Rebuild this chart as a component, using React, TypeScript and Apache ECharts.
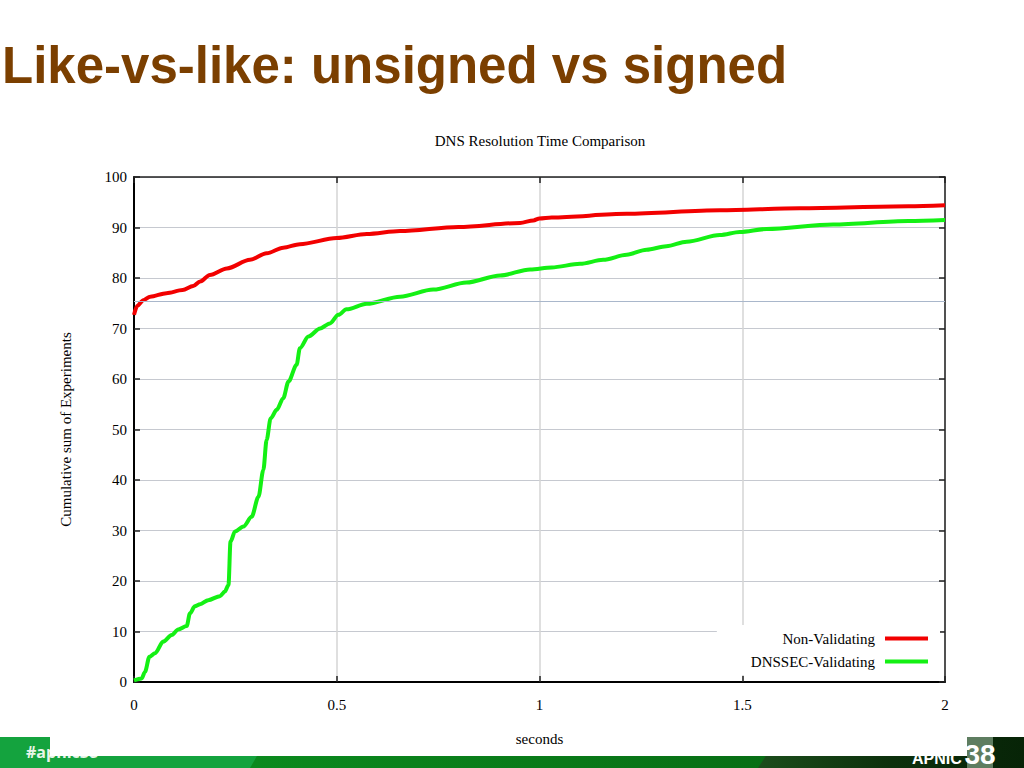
import React, { useEffect, useRef } from "react";
import * as echarts from "echarts";

const slideTitle = "Like-vs-like: unsigned vs signed";
const chartTitle = "DNS Resolution Time Comparison";
const xAxisName = "seconds";
const yAxisName = "Cumulative sum of Experiments";
const seriesNames = ["Non-Validating", "DNSSEC-Validating"];
const referenceLevel = 75.4;

const nonValX = [0, 0.008, 0.023, 0.04, 0.08, 0.12, 0.146, 0.163, 0.187, 0.229, 0.286, 0.327, 0.368, 0.409, 0.5, 0.574, 0.656, 0.8, 0.952, 0.985, 1.0, 1.03, 1.215, 1.445, 1.642, 1.91, 2.0];
const nonValY = [72.7, 74.5, 75.6, 76.3, 77.0, 77.6, 78.4, 79.3, 80.6, 81.9, 83.6, 84.9, 86.0, 86.7, 87.9, 88.7, 89.3, 90.1, 90.9, 91.4, 91.8, 92.0, 92.7, 93.4, 93.8, 94.2, 94.4];

const dnssecX = [0, 0.019, 0.027, 0.038, 0.052, 0.072, 0.093, 0.109, 0.13, 0.138, 0.15, 0.163, 0.183, 0.212, 0.224, 0.233, 0.238, 0.249, 0.27, 0.29, 0.307, 0.319, 0.327, 0.337, 0.352, 0.368, 0.381, 0.401, 0.409, 0.43, 0.459, 0.483, 0.504, 0.524, 0.574, 0.656, 0.738, 0.82, 0.903, 0.977, 1.03, 1.1, 1.157, 1.215, 1.264, 1.313, 1.363, 1.445, 1.494, 1.56, 1.724, 1.91, 2.0];
const dnssecY = [0.3, 0.7, 2.0, 5.0, 5.7, 8.0, 9.3, 10.4, 11.1, 13.6, 15.0, 15.4, 16.2, 17.0, 17.9, 19.2, 27.8, 29.8, 30.8, 32.7, 36.7, 42.0, 47.9, 52.2, 53.9, 56.2, 59.5, 62.8, 66.1, 68.4, 70.0, 71.0, 72.7, 73.8, 74.9, 76.3, 77.7, 79.1, 80.5, 81.7, 82.1, 82.8, 83.6, 84.6, 85.6, 86.3, 87.2, 88.5, 89.1, 89.7, 90.6, 91.3, 91.5];

const footerTag = "#apnic38";
const footerOrg = "APNIC";
const footerNum = "38";

const serif = "'Liberation Serif', 'DejaVu Serif', serif";
const sans = "'Liberation Sans', Arial, sans-serif";

function zip(xs: number[], ys: number[]) {
  return xs.map((x, i) => [x, ys[i]]);
}

export default function App() {
  const ref = useRef<HTMLDivElement>(null);
  useEffect(() => {
    if (!ref.current) return;
    const chart = echarts.init(ref.current, null, { renderer: "svg" });
    const axisText = { fontSize: 15, color: "#000", fontFamily: serif };
    const option: any = {
      animation: false,
      backgroundColor: "#fff",
      textStyle: { fontFamily: serif },
      grid: { left: 134, top: 177, right: 79, bottom: 86, containLabel: false },
      legend: {
        data: seriesNames,
        orient: "vertical",
        right: 84,
        bottom: 93,
        align: "right",
        backgroundColor: "#fff",
        padding: [6, 12, 6, 34],
        itemWidth: 43,
        itemHeight: 4,
        itemGap: 8,
        icon: "rect",
        textStyle: { fontSize: 15, color: "#000", fontFamily: serif, padding: [0, 5, 0, 0] },
      },
      xAxis: [
        {
          type: "value",
          min: 0,
          max: 2,
          interval: 0.5,
          position: "bottom",
          name: xAxisName,
          nameLocation: "middle",
          nameGap: 49,
          nameTextStyle: axisText,
          axisLine: { show: true, onZero: false, lineStyle: { color: "#000", width: 2 } },
          axisTick: { show: true, inside: true, length: 6, lineStyle: { color: "#222", width: 1.5 } },
          axisLabel: { ...axisText, margin: 15 },
          splitLine: { show: true, lineStyle: { color: "#d4d4d4", width: 1.5 } },
        },
        {
          type: "value",
          min: 0,
          max: 2,
          interval: 0.5,
          position: "top",
          axisLine: { show: true, onZero: false, lineStyle: { color: "#222", width: 1.5 } },
          axisTick: { show: true, inside: true, length: 6, lineStyle: { color: "#222", width: 1.5 } },
          axisLabel: { show: false },
          splitLine: { show: false },
        },
      ],
      yAxis: [
        {
          type: "value",
          min: 0,
          max: 100,
          interval: 10,
          position: "left",
          name: yAxisName,
          nameLocation: "middle",
          nameGap: 61,
          nameRotate: 90,
          nameTextStyle: axisText,
          axisLine: { show: true, onZero: false, lineStyle: { color: "#000", width: 2 } },
          axisTick: { show: true, inside: true, length: 6, lineStyle: { color: "#222", width: 1.5 } },
          axisLabel: { ...axisText, margin: 7 },
          splitLine: { show: true, lineStyle: { color: "#c6c9d0", width: 1 } },
        },
        {
          type: "value",
          min: 0,
          max: 100,
          interval: 10,
          position: "right",
          axisLine: { show: true, onZero: false, lineStyle: { color: "#222", width: 1.5 } },
          axisTick: { show: true, inside: true, length: 6, lineStyle: { color: "#222", width: 1.5 } },
          axisLabel: { show: false },
          splitLine: { show: false },
        },
      ],
      series: [
        {
          name: "reference",
          type: "line",
          data: [],
          z: 1,
          silent: true,
          markLine: {
            silent: true,
            symbol: "none",
            label: { show: false },
            lineStyle: { color: "#a9b7cb", width: 1, type: "solid" },
            data: [{ yAxis: referenceLevel }],
          },
        },
        {
          name: seriesNames[0],
          type: "line",
          data: zip(nonValX, nonValY),
          showSymbol: false,
          symbol: "none",
          smooth: 0.3,
          smoothMonotone: "x",
          lineStyle: { color: "#f20000", width: 4 },
          itemStyle: { color: "#f20000" },
          z: 3,
        },
        {
          name: seriesNames[1],
          type: "line",
          data: zip(dnssecX, dnssecY),
          showSymbol: false,
          symbol: "none",
          smooth: 0.3,
          smoothMonotone: "x",
          lineStyle: { color: "#14f014", width: 4 },
          itemStyle: { color: "#14f014" },
          z: 3,
        },
      ],
      graphic: [
        {
          type: "text",
          x: 2,
          y: 65,
          style: {
            text: slideTitle,
            fill: "#7b3f00",
            font: `bold 51px ${sans}`,
            textAlign: "left",
            textVerticalAlign: "middle",
          },
        },
        {
          type: "text",
          x: 540,
          y: 141,
          style: {
            text: chartTitle,
            fill: "#000",
            font: `15px ${serif}`,
            textAlign: "center",
            textVerticalAlign: "middle",
          },
        },
        {
          type: "rect",
          z: -10,
          shape: { x: 0, y: 737, width: 1024, height: 31 },
          style: { fill: "#14a33e" },
        },
        {
          type: "polygon",
          z: -10,
          shape: { points: [[268, 737], [1024, 737], [1024, 768], [250, 768]] },
          style: {
            fill: new echarts.graphic.LinearGradient(0, 0, 1, 0, [
              { offset: 0, color: "#0b8a1e" },
              { offset: 1, color: "#066010" },
            ]),
          },
        },
        {
          type: "polygon",
          z: -10,
          shape: { points: [[778, 737], [1024, 737], [1024, 768], [758, 768]] },
          style: {
            fill: new echarts.graphic.LinearGradient(0, 0, 1, 0, [
              { offset: 0, color: "#1b4d1b" },
              { offset: 0.5, color: "#0c300c" },
              { offset: 1, color: "#072407" },
            ]),
          },
        },
        {
          type: "text",
          z: -9,
          x: 26,
          y: 752,
          style: {
            text: footerTag,
            fill: "#e8f5e8",
            font: `bold 16px 'Open Sans', ${sans}`,
            textVerticalAlign: "middle",
          },
        },
        {
          type: "text",
          z: -9,
          x: 912,
          y: 758,
          style: {
            text: footerOrg,
            fill: "#ffffff",
            font: `bold 16px ${sans}`,
            textVerticalAlign: "middle",
          },
        },
        {
          type: "rect",
          z: -8,
          shape: { x: 50, y: 700, width: 917, height: 56 },
          style: { fill: "#ffffff" },
        },
        {
          type: "rect",
          z: -7,
          shape: { x: 967, y: 737, width: 26, height: 31 },
          style: { fill: "#5e7d60" },
        },
        {
          type: "text",
          z: -6,
          x: 980,
          y: 754,
          style: {
            text: footerNum,
            fill: "#ffffff",
            font: `bold 28px ${sans}`,
            textAlign: "center",
            textVerticalAlign: "middle",
          },
        },
      ],
    };
    chart.setOption(option);
    return () => chart.dispose();
  }, []);
  return (
    <div
      ref={ref}
      style={{ position: "fixed", left: 0, top: 0, width: 1024, height: 768, background: "#fff" }}
    />
  );
}
